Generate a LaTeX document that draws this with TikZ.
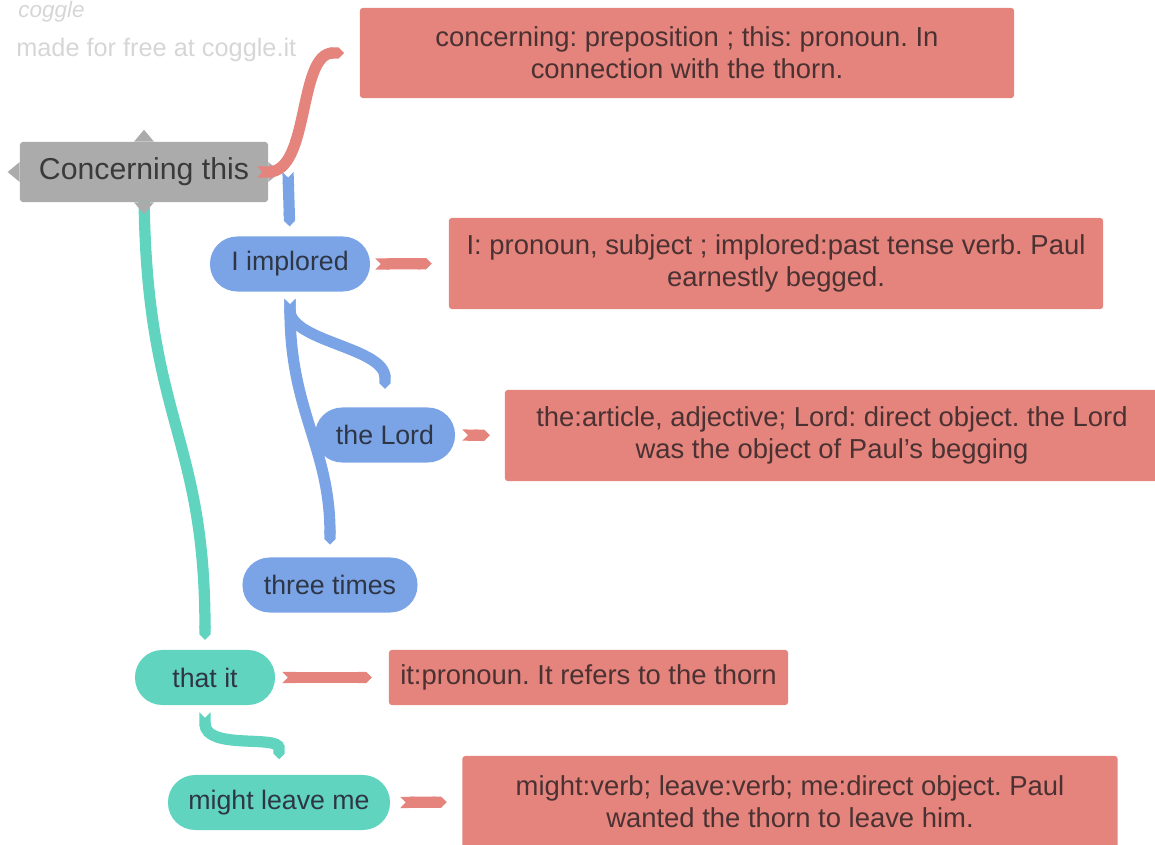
\documentclass[tikz,border=0pt]{standalone}
\usepackage{fontspec}
\setmainfont{Liberation Sans}
\frenchspacing
\usetikzlibrary{arrows.meta,backgrounds}
\definecolor{notered}{HTML}{E5837D}
\definecolor{branchblue}{HTML}{7BA4E6}
\definecolor{branchteal}{HTML}{60D4BF}
\definecolor{rootgray}{HTML}{ABABAB}
\definecolor{inktext}{HTML}{3A3A3A}
\definecolor{noteink}{HTML}{4A3232}
\definecolor{pillink}{HTML}{2E3646}
\definecolor{markgray}{HTML}{D6D6D6}
\tikzset{
  root/.style={fill=rootgray,text=inktext,rounded corners=2pt,inner sep=0pt,
    minimum width=6.2cm,minimum height=1.5cm,font=\fontsize{21.5}{24}\selectfont},
  pill/.style={rounded corners=0.68cm,inner sep=0pt,minimum height=1.375cm,
    text=pillink,font=\fontsize{19}{22}\selectfont},
  bluepill/.style={pill,fill=branchblue},
  tealpill/.style={pill,fill=branchteal},
  note/.style={fill=notered,text=noteink,rounded corners=2pt,inner sep=0pt,
    align=center,font=\fontsize{19.5}{22.8}\selectfont},
  ribbon/.style={line width=8pt,{Triangle Cap[reversed]}-{Triangle Cap}},
  redlink/.style={ribbon,draw=notered},
  bluelink/.style={ribbon,draw=branchblue},
  teallink/.style={ribbon,draw=branchteal},
  watermark/.style={text=markgray,inner sep=0pt}
}
\begin{document}
\begin{tikzpicture}[x=0.025cm,y=0.025cm]
\useasboundingbox (0,0) rectangle (1155,-845);
% watermark
\node[watermark,anchor=north west,font=\itshape\fontsize{16}{18}\selectfont] (logo) at (18,-1) {coggle};
\node[watermark,anchor=west,font=\fontsize{18}{20}\selectfont] (madefor) at (16,-50) {made for free at coggle.it};
% note boxes
\node[note,minimum width=16.35cm,minimum height=2.25cm] (b1) at (687,-53)
  {concerning: preposition ; this: pronoun. In\\connection with the thorn.};
\node[note,minimum width=16.35cm,minimum height=2.275cm] (b2) at (776,-263.5)
  {I: pronoun, subject ; implored:past tense verb. Paul\\earnestly begged.};
\node[note,minimum width=16.35cm,minimum height=2.275cm] (b3) at (832,-435.5)
  {the:article, adjective; Lord: direct object. the Lord\\was the object of Paul's begging};
\node[note,minimum width=9.975cm,minimum height=1.375cm] (b4) at (588.5,-677.5)
  {it:pronoun. It refers to the thorn};
\node[note,minimum width=16.375cm,minimum height=2.3cm] (b5) at (790,-802)
  {might:verb; leave:verb; me:direct object. Paul\\wanted the thorn to leave him.};
% root
\node[root] (root) at (144,-172) {Concerning this};
\foreach \a/\d in {north/90,west/180,south/270,east/0} {
  \fill[rootgray] ([shift={(\d+90:10)}]root.\a) -- ([shift={(\d:12)}]root.\a)
    -- ([shift={(\d-90:10)}]root.\a) -- cycle;
}
% topic nodes
\node[bluepill,minimum width=4cm] (impl) at (290,-264) {I implored};
\node[bluepill,minimum width=3.5cm] (lord) at (385,-435) {the Lord};
\node[bluepill,minimum width=4.375cm] (three) at (330,-585) {three times};
\node[tealpill,minimum width=3.5cm] (thatit) at (205,-677.5) {that it};
\node[tealpill,minimum width=5.55cm] (might) at (279,-802.5) {might leave me};
% branches
\begin{scope}[on background layer]
\draw[bluelink,shorten >=7pt] ([xshift=14pt]root.east) -- (impl.north);
\draw[teallink,shorten >=7pt] (root.center) .. controls +(0,-250) and +(0,220) .. (thatit.north);
\end{scope}
\draw[redlink,shorten <=-8pt,shorten >=11pt] (root.east) .. controls +(42,0) and +(-62,0) .. (b1.west);
\draw[bluelink,shorten <=5pt,shorten >=13pt] (impl.south) .. controls +(0,-50) and +(0,60) .. (lord.north);
\draw[bluelink,shorten <=5pt,shorten >=9pt] (impl.south) .. controls +(0,-120) and +(0,110) .. (three.north);
\draw[teallink,shorten <=5pt,shorten >=11pt] (thatit.south) .. controls +(0,-45) and +(0,40) .. (might.north);
% note links
\foreach \s/\t/\a/\b in {impl/b2/3.5/12,lord/b3/5/10.5,thatit/b4/5/12,might/b5/7/11} {
  \draw[redlink,shorten <=\a pt,shorten >=\b pt] (\s.east) -- (\t.west);
}
\end{tikzpicture}
\end{document}
